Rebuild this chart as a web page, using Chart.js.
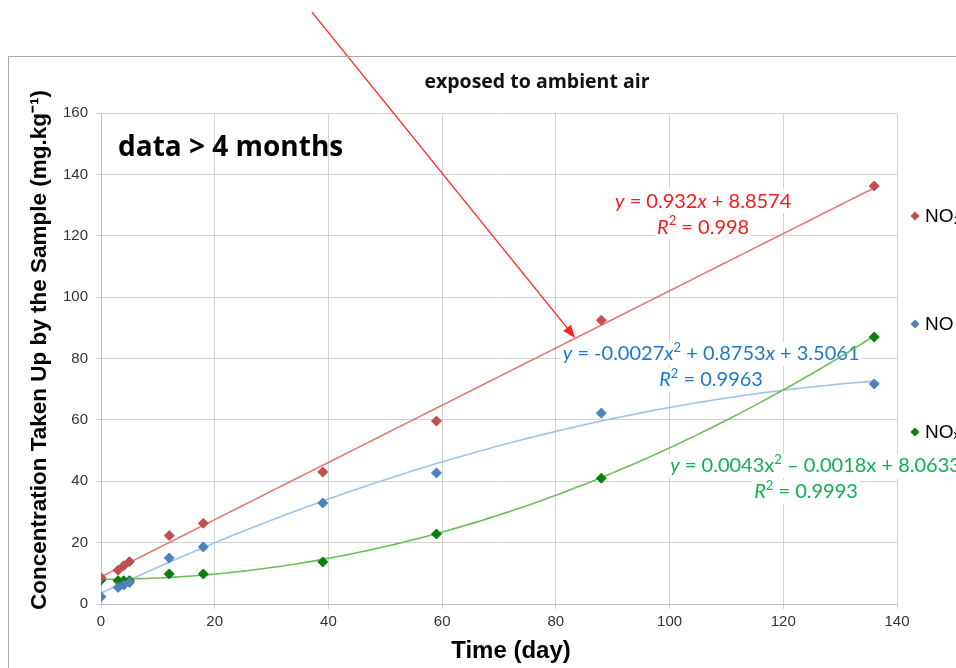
<!DOCTYPE html>
<html>
<head>
<meta charset="utf-8">
<script src="https://cdn.jsdelivr.net/npm/chart.js@4.4.1/dist/chart.umd.min.js"></script>
<style>
  html, body { margin: 0; padding: 0; background: #fff; }
  #wrap { width: 956px; height: 668px; position: relative; }
</style>
</head>
<body>
<div id="wrap"><canvas id="c" width="956" height="668"></canvas></div>
<script>
// measured days and uptake values (mg/kg)
const days = [0, 3, 4, 5, 12, 18, 39, 59, 88, 136];
const no2 = [8.6, 11, 12.5, 13.8, 22.3, 26.3, 43, 59.6, 92.5, 136.2];
const no = [2.4, 5.4, 6.2, 7, 15, 18.6, 32.9, 42.7, 62.2, 71.7];
const nox = [7.8, 7.6, 7.6, 7.6, 9.8, 9.8, 13.7, 22.8, 41, 87];
const seriesNames = ['NO\u2082', 'NO', 'NO\u2093'];

// trendline coefficients as printed on the chart [x^2, x, const]
const fitNo2 = [0, 0.932, 8.8574];
const fitNo = [-0.0027, 0.8753, 3.5061];
const fitNox = [0.0043, -0.0018, 8.0633];

const markerColors = ['#c0504d', '#4f81bd', '#0a800a'];
const trendColors = ['#e47a78', '#9fc3e8', '#6cbf5a'];
const eqColors = ['#f21d1d', '#1e78c8', '#0fb050'];

const EQ_FONT = 'Lato';
const EQ_SIZE = 20;

// equation labels, anchored in data units
const eqLabels = [
  { c: 0, at: [105.9, 131.3], align: 'center', parts: [['y', 'i'], [' = 0.932'], ['x', 'i'], [' + 8.8574']] },
  { c: 0, at: [105.9, 122.8], align: 'center', parts: [['R', 'i'], ['2', 's'], [' = 0.998']] },
  { c: 1, at: [81.2, 81.5], align: 'left', parts: [['y', 'i'], [' = -0.0027'], ['x', 'i'], ['2', 's'], [' + 0.8753'], ['x', 'i'], [' + 3.5061']] },
  { c: 1, at: [107.3, 73], align: 'center', parts: [['R', 'i'], ['2', 's'], [' = 0.9963']] },
  { c: 2, at: [100.1, 45], align: 'left', parts: [['y', 'i'], [' = 0.0043x'], ['2', 's'], [' \u2013 0.0018x + 8.0633']] },
  { c: 2, at: [124, 36.5], align: 'center', parts: [['R', 'i'], ['2', 's'], [' = 0.9993']] }
];

function partFont(p, size) {
  const st = p[1] || '';
  const sz = st.includes('s') ? Math.round(size * 0.65) : size;
  return (st.includes('i') ? 'italic ' : '') + sz + 'px ' + EQ_FONT;
}

function drawRich(ctx, parts, x, y, align, size, color, box) {
  let w = 0;
  const widths = parts.map(p => { ctx.font = partFont(p, size); const m = ctx.measureText(p[0]).width; w += m; return m; });
  let x0 = align === 'center' ? x - w / 2 : x;
  if (box) {
    ctx.fillStyle = '#fff';
    ctx.fillRect(x0 - 2, y - size * 0.6, w + 4, size * 1.2);
    return;
  }
  ctx.fillStyle = color;
  ctx.textBaseline = 'middle';
  ctx.textAlign = 'left';
  parts.forEach((p, i) => {
    ctx.font = partFont(p, size);
    const dy = (p[1] || '').includes('s') ? -size * 0.32 : 0;
    ctx.fillText(p[0], x0, y + dy);
    x0 += widths[i];
  });
}

const annotations = {
  id: 'annotations',
  beforeDatasetsDraw(chart) {
    const { ctx, scales: { x, y } } = chart;
    ctx.save();
    // label backgrounds and text
    eqLabels.forEach(l => drawRich(ctx, l.parts, x.getPixelForValue(l.at[0]), y.getPixelForValue(l.at[1]), l.align, EQ_SIZE, null, true));
    eqLabels.forEach(l => drawRich(ctx, l.parts, x.getPixelForValue(l.at[0]), y.getPixelForValue(l.at[1]), l.align, EQ_SIZE, eqColors[l.c], false));
    // trendlines
    [fitNo2, fitNo, fitNox].forEach((f, k) => {
      ctx.beginPath();
      ctx.strokeStyle = trendColors[k];
      ctx.lineWidth = 1.6;
      for (let d = days[0]; d <= days[days.length - 1]; d += 1) {
        const v = f[0] * d * d + f[1] * d + f[2];
        const px = x.getPixelForValue(d), py = y.getPixelForValue(v);
        if (d === days[0]) ctx.moveTo(px, py); else ctx.lineTo(px, py);
      }
      ctx.stroke();
    });
    ctx.restore();
  },
  afterDatasetsDraw(chart) {
    const { ctx, scales: { x, y }, chartArea } = chart;
    ctx.save();
    // red arrow pointing at the NO2 fit
    const x1 = x.getPixelForValue(37.1), y1 = y.getPixelForValue(192.9);
    const x2 = x.getPixelForValue(83.4), y2 = y.getPixelForValue(86.7);
    const ang = Math.atan2(y2 - y1, x2 - x1);
    ctx.strokeStyle = '#f22';
    ctx.fillStyle = '#f22';
    ctx.lineWidth = 1.3;
    ctx.beginPath();
    ctx.moveTo(x1, y1);
    ctx.lineTo(x2 - 10 * Math.cos(ang), y2 - 10 * Math.sin(ang));
    ctx.stroke();
    ctx.beginPath();
    ctx.moveTo(x2, y2);
    ctx.lineTo(x2 - 13 * Math.cos(ang) + 5 * Math.sin(ang), y2 - 13 * Math.sin(ang) - 5 * Math.cos(ang));
    ctx.lineTo(x2 - 13 * Math.cos(ang) - 5 * Math.sin(ang), y2 - 13 * Math.sin(ang) + 5 * Math.cos(ang));
    ctx.closePath();
    ctx.fill();

    // title and note
    ctx.fillStyle = '#111';
    ctx.textAlign = 'center';
    ctx.textBaseline = 'middle';
    ctx.font = 'bold 19.5px "Open Sans"';
    ctx.fillText('exposed to ambient air', 537, 82);
    ctx.textAlign = 'left';
    ctx.font = 'bold 28px "Open Sans"';
    ctx.fillStyle = '#000';
    ctx.fillText('data > 4 months', chartArea.left + 17, 148);

    // axis titles
    ctx.textAlign = 'center';
    ctx.font = 'bold 24px "Liberation Sans"';
    ctx.fillText('Time (day)', 511, 651);
    ctx.save();
    ctx.translate(40, 350);
    ctx.rotate(-Math.PI / 2);
    ctx.font = 'bold 22.5px "Liberation Sans"';
    ctx.fillText('Concentration Taken Up by the Sample (mg.kg\u207b\u00b9)', 0, 0);
    ctx.restore();

    // legend on the right
    ctx.textAlign = 'left';
    seriesNames.forEach((name, i) => {
      const ly = chartArea.top + 103 + i * 108;
      const lx = chartArea.right + 18;
      ctx.fillStyle = markerColors[i];
      ctx.beginPath();
      ctx.moveTo(lx, ly - 4.5); ctx.lineTo(lx + 4.5, ly); ctx.lineTo(lx, ly + 4.5); ctx.lineTo(lx - 4.5, ly);
      ctx.closePath();
      ctx.fill();
      ctx.fillStyle = '#000';
      ctx.font = '19px "Liberation Sans"';
      ctx.fillText(name, lx + 10, ly + 1);
    });

    // outer chart frame
    ctx.strokeStyle = '#a8a8a8';
    ctx.lineWidth = 1;
    ctx.strokeRect(8.5, 56.5, 1000, 700);
    ctx.restore();
  }
};

const mk = (vals, i) => ({
  label: seriesNames[i],
  data: days.map((d, k) => ({ x: d, y: vals[k] })),
  pointStyle: 'rectRot',
  pointRadius: 5,
  pointHoverRadius: 5,
  backgroundColor: markerColors[i],
  borderColor: markerColors[i],
  borderWidth: 1,
  showLine: false
});

new Chart(document.getElementById('c'), {
  type: 'scatter',
  data: { datasets: [mk(no2, 0), mk(no, 1), mk(nox, 2)] },
  options: {
    responsive: false,
    animation: false,
    layout: { padding: { left: 24, top: 113, right: 59, bottom: 0 } },
    plugins: { legend: { display: false }, tooltip: { enabled: false } },
    scales: {
      x: {
        type: 'linear', min: 0, max: 140,
        afterFit(s) { s.height = 64; },
        ticks: { stepSize: 20, padding: 4, color: '#333', font: { family: 'Liberation Sans', size: 15 } },
        grid: { color: '#d2d2d2', tickLength: 5 },
        border: { color: '#bdbdbd' }
      },
      y: {
        min: 0, max: 160,
        afterFit(s) { s.width = 77; },
        ticks: { stepSize: 20, padding: 8, color: '#333', font: { family: 'Liberation Sans', size: 15 } },
        grid: { color: '#d2d2d2', tickLength: 5 },
        border: { color: '#bdbdbd' }
      }
    }
  },
  plugins: [annotations]
});
</script>
</body>
</html>
